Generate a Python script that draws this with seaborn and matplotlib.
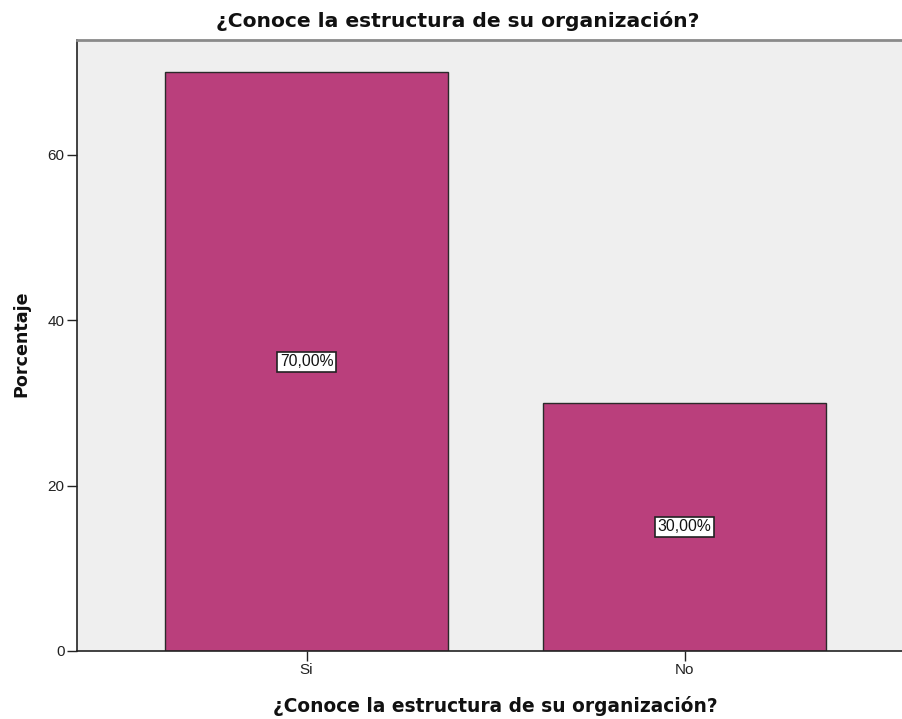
import matplotlib
matplotlib.use("Agg")
import matplotlib.pyplot as plt
import seaborn as sns
import pandas as pd

categories = ["Si", "No"]
percentages = [70.0, 30.0]
value_labels = ["70,00%", "30,00%"]
title_text = "¿Conoce la estructura de su organización?"
y_ticks = [0, 20, 40, 60]

sns.set_theme(style="white")
plt.rcParams["font.family"] = ["Liberation Sans", "DejaVu Sans"]
bold_family = ["DejaVu Sans"]

df = pd.DataFrame({"categoria": categories, "porcentaje": percentages})

fig = plt.figure(figsize=(9.02, 7.19), dpi=100)
ax = fig.add_axes([0.0854, 0.0946, 0.9146, 0.8498])
ax.set_facecolor("#EFEFEF")

sns.barplot(data=df, x="categoria", y="porcentaje", order=categories,
            color="#BA3F7C", saturation=1, width=0.75,
            edgecolor="#2A2A2A", linewidth=1.0, ax=ax)

for i, (v, lab) in enumerate(zip(percentages, value_labels)):
    ax.text(i, v / 2, lab, ha="center", va="center", fontsize=11.3, color="#111111",
            bbox=dict(boxstyle="square,pad=0.16", facecolor="white",
                      edgecolor="#222222", linewidth=1.2))

ax.set_xlim(-0.607, 1.575)
ax.set_ylim(0, 73.9)
ax.set_yticks(y_ticks)
ax.set_yticklabels([str(t) for t in y_ticks])

ax.spines["right"].set_visible(False)
ax.spines["top"].set_color("#8A8A8A")
ax.spines["top"].set_linewidth(2)
for side in ["left", "bottom"]:
    ax.spines[side].set_color("#222222")
    ax.spines[side].set_linewidth(1.2)

ax.tick_params(axis="both", which="both", direction="out", length=7, width=1,
               color="#222222", labelsize=11, labelcolor="#222222",
               left=True, bottom=True, pad=2)

ax.set_xlabel(title_text, fontsize=13.4, fontweight="bold", color="#111111",
              family=bold_family, va="center")
ax.xaxis.set_label_coords((495 - 77) / 825, -(706 - 651) / 611)
ax.set_ylabel("Porcentaje", fontsize=12.6, fontweight="bold", color="#111111",
              family=bold_family, va="center")
ax.yaxis.set_label_coords((21 - 77) / 825, (651 - 344) / 611)
fig.text(0.507, 0.971, title_text, ha="center", va="center",
         fontsize=14.6, fontweight="bold", color="#111111", family=bold_family)

fig.savefig("out.png", dpi=100, facecolor="white")
